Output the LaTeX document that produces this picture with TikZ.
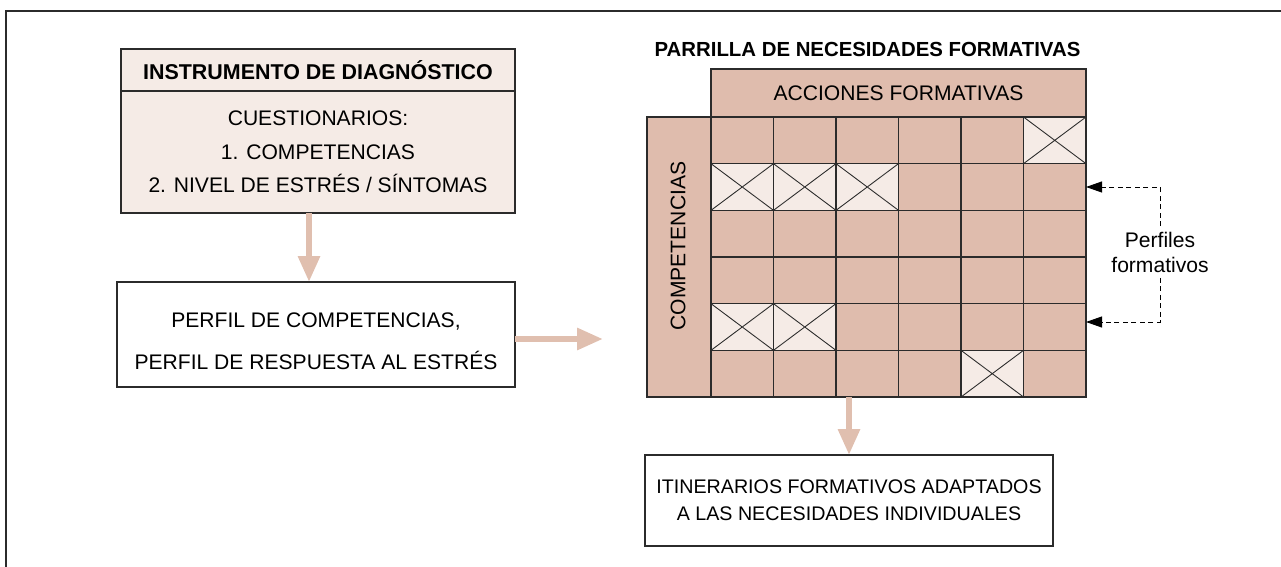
\documentclass[tikz,border=0pt]{standalone}
\usepackage{fontspec}
\setmainfont{Liberation Sans}
\usetikzlibrary{arrows.meta}
\definecolor{rosado}{HTML}{DFBCAD}
\definecolor{claro}{HTML}{F5EBE6}
\definecolor{flecha}{HTML}{E0BFAF}
\definecolor{borde}{HTML}{2B2B2B}
\tikzset{
  caja/.style={draw=borde,line width=0.7pt,inner sep=0pt,outer sep=0pt},
  celda/.style={caja,fill=rosado,minimum width=1.25cm,minimum height=0.9333cm},
  texto/.style={font=\fontsize{12}{14.2}\selectfont},
  flechagrande/.style={draw=flecha,line width=0.12cm,-{Triangle[length=0.52cm,width=0.42cm]}},
  perfilflecha/.style={draw=black,line width=0.5pt,dash pattern=on 0.1cm off 0.07cm,-{Triangle[length=0.32cm,width=0.22cm]}}
}
\begin{document}
\begin{tikzpicture}[x=0.02cm,y=-0.02cm]
        \useasboundingbox (0,0) rectangle (1281,567);
        \draw[borde,line width=0.9pt] (6,567) -- (6,11) -- (1281,11);

        \node[caja,fill=claro,minimum width=7.88cm,minimum height=0.84cm,font=\bfseries\fontsize{12.2}{14}\selectfont] (instr) at (318,70) {INSTRUMENTO DE DIAGNÓSTICO};
        \node[caja,fill=claro,minimum width=7.88cm,minimum height=2.44cm,align=center,font=\fontsize{12}{19}\selectfont] (cuest) at (318,152) {CUESTIONARIOS:\\1. COMPETENCIAS\\2. NIVEL DE ESTRÉS / SÍNTOMAS};

        \node[caja,minimum width=7.96cm,minimum height=2.1cm] (perfil) at (316,334.5) {};
        \node[align=center,font=\fontsize{12}{24}\selectfont] (perfiltxt) at (316,341) {PERFIL DE COMPETENCIAS,\\PERFIL DE RESPUESTA AL ESTRÉS};

        \node[font=\bfseries\fontsize{11.6}{14}\selectfont] (titulo) at (867.5,49.5) {PARRILLA DE NECESIDADES FORMATIVAS};
        \node[caja,fill=rosado,minimum width=7.5cm,minimum height=0.96cm,texto] (acciones) at (898.5,93) {ACCIONES FORMATIVAS};
        \node[caja,fill=rosado,minimum width=1.28cm,minimum height=5.6cm] (compet) at (679,257) {};
        \node[rotate=90,texto] (competxt) at (678,246) {COMPETENCIAS};

        \foreach \f in {1,...,6}
            \foreach \c in {1,...,6}
                \node[celda] (c-\f-\c) at ({711+62.5*(\c-0.5)},{117+46.667*(\f-0.5)}) {};
        \foreach \f/\c in {1/6,2/1,2/2,2/3,5/1,5/2,6/5}{
            \draw[caja,fill=claro] (c-\f-\c.north west) rectangle (c-\f-\c.south east);
            \draw[borde,line width=0.5pt] (c-\f-\c.north west) -- (c-\f-\c.south east) (c-\f-\c.north east) -- (c-\f-\c.south west);
        }

        \node[caja,minimum width=8.16cm,minimum height=1.82cm,align=center,font=\fontsize{11.2}{15.3}\selectfont] (itin) at (849,500.5) {ITINERARIOS FORMATIVOS ADAPTADOS\\A LAS NECESIDADES INDIVIDUALES};

        \node[align=center,texto,inner sep=0.3em] (pf) at (1160,252) {Perfiles\\formativos};
        \draw[perfilflecha] (pf.north) |- (c-2-6.east);
        \draw[perfilflecha] (pf.south) |- ([yshift=0.1cm]c-5-6.east);

        \coordinate (entrada) at (603,339);
        \draw[flechagrande] ([xshift=-0.18cm]cuest.south) -- ([xshift=-0.18cm]cuest.south |- perfil.north);
        \draw[flechagrande] (perfil.east |- entrada) -- (entrada);
        \draw[flechagrande] (itin.north |- c-6-3.south) -- (itin.north);

    \end{tikzpicture}
\end{document}
